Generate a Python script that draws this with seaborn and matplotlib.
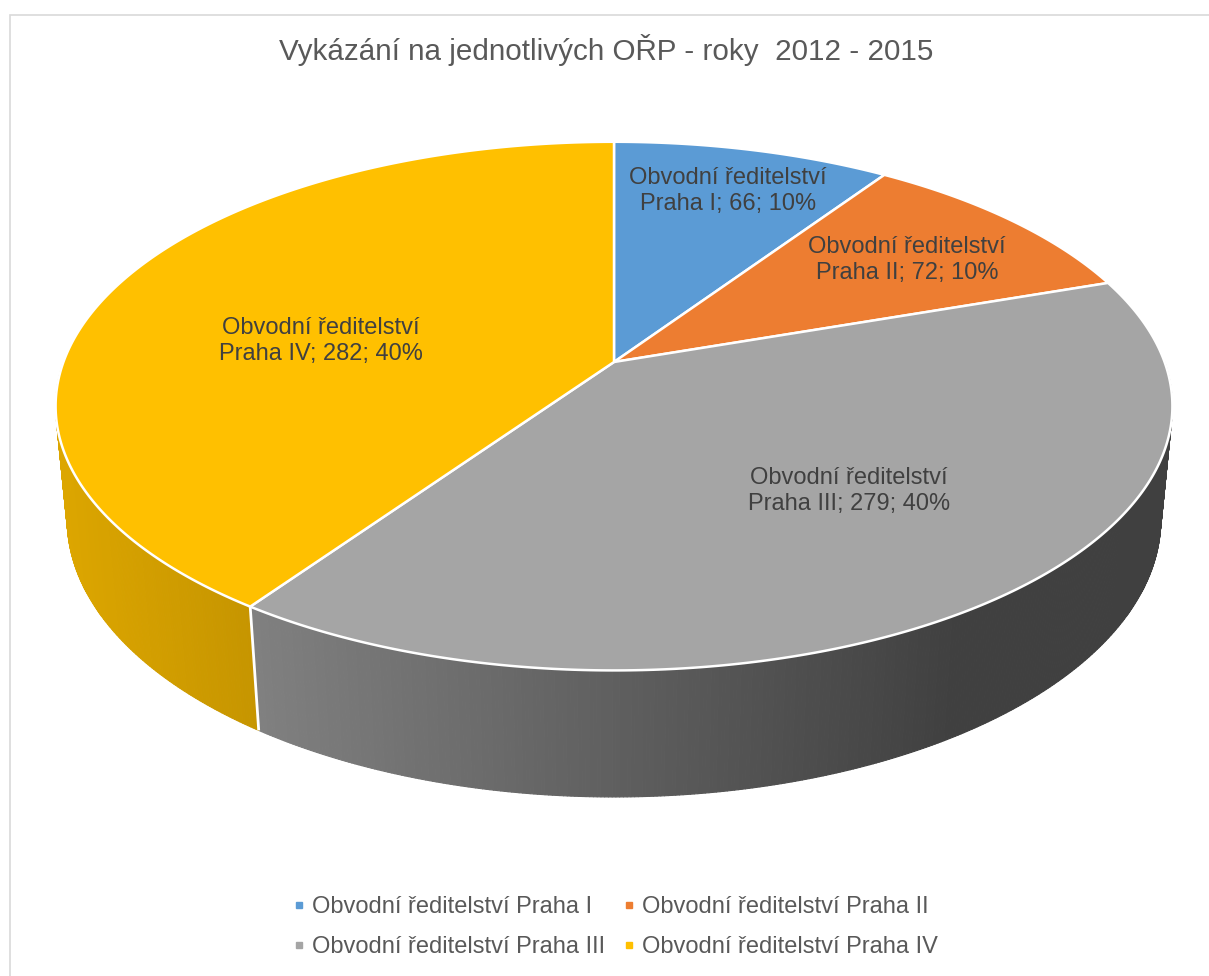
import numpy as np
import matplotlib
matplotlib.use("Agg")
import matplotlib.pyplot as plt
import seaborn as sns
from matplotlib.collections import PolyCollection
from matplotlib.patches import Polygon, Rectangle
from matplotlib.lines import Line2D

# ---------------- data ----------------
categories = ["Obvodní ředitelství Praha I", "Obvodní ředitelství Praha II",
              "Obvodní ředitelství Praha III", "Obvodní ředitelství Praha IV"]
values = [66, 72, 279, 282]
pct_labels = ["10%", "10%", "40%", "40%"]
colors = ["#5B9BD5", "#ED7D31", "#A5A5A5", "#FFC000"]
title = "Vykázání na jednotlivých OŘP - roky  2012 - 2015"

# ---------------- style ----------------
sns.set_theme(style="white")
plt.rcParams['font.family'] = ['Liberation Sans', 'DejaVu Sans']

W, Hpx = 1209, 976
fig = plt.figure(figsize=(W / 100, Hpx / 100), dpi=100)
ax = fig.add_axes([0, 0, 1, 1])
ax.set_xlim(0, W)
ax.set_ylim(Hpx, 0)
ax.axis('off')

# chart border
fig.patches.append(Rectangle((10 / W, -0.01), 1.05, 1 - 15 / Hpx + 0.01,
                             transform=fig.transFigure, fill=False,
                             edgecolor="#D9D9D9", linewidth=1.2))

# ---------------- 3D perspective pie ----------------
CX, CY = 614.0, 362.0
F = 2918.0
D = 5.30
alpha = np.arcsin(0.4667)
sa, ca = np.sin(alpha), np.cos(alpha)
THICK = 0.235


def proj(theta_deg, r=1.0, level=0.0):
    t = np.radians(theta_deg)
    X = r * np.sin(t)
    Z = -r * np.cos(t)
    Y = -level * THICK
    depth = D - Y * sa - Z * ca
    up = Y * ca - Z * sa
    return CX + F * X / depth, CY - F * up / depth


def shade(x):
    f = 0.86 - 0.00045 * (x - 65)
    if x > 250:
        f = 0.777 - 0.00055 * (x - 250)
    return max(0.39, f)


total = float(sum(values))
cum = np.concatenate([[0], np.cumsum(values)]) / total * 360.0

base_rgb = [np.array(matplotlib.colors.to_rgb(c)) for c in colors]

# sides (front half visible)
for i in range(len(values)):
    a0, a1 = cum[i], cum[i + 1]
    lo, hi = max(a0, 90.0), min(a1, 270.0)
    if lo >= hi:
        continue
    th = np.linspace(lo, hi, int((hi - lo) * 3) + 2)
    polys, fcs = [], []
    for t0, t1 in zip(th[:-1], th[1:]):
        x0, y0 = proj(t0)
        x1, y1 = proj(t1)
        x2, y2 = proj(t1, level=1)
        x3, y3 = proj(t0, level=1)
        polys.append([(x0, y0), (x1, y1), (x2, y2), (x3, y3)])
        fcs.append(np.clip(base_rgb[i] * shade((x0 + x1) / 2), 0, 1))
    pc = PolyCollection(polys, facecolors=fcs, edgecolors=fcs, linewidths=0.8, zorder=1)
    ax.add_collection(pc)

# white separators on the side
for a in cum:
    a_mod = a % 360
    if 90 < a_mod < 270:
        xt, yt = proj(a_mod)
        xb, yb = proj(a_mod, level=1)
        ax.plot([xt, xb], [yt, yb], color="white", lw=2, zorder=2, solid_capstyle='butt')

# top faces
for i in range(len(values)):
    a0, a1 = cum[i], cum[i + 1]
    th = np.linspace(a0, a1, max(int((a1 - a0) * 2), 4))
    xs, ys = proj(th)
    pts = [(CX, CY)] + list(zip(xs, ys))
    ax.add_patch(Polygon(pts, closed=True, facecolor=colors[i], edgecolor="white",
                         linewidth=1.8, joinstyle='round', zorder=3))

# data labels
label_shift = [0.0, 0.0, -4.0, -7.4]
label_r = [0.8, 0.72, 0.6, 0.55]
for i, cat in enumerate(categories):
    mid = (cum[i] + cum[i + 1]) / 2 + label_shift[i]
    lx, ly = proj(mid, r=label_r[i])
    head, tail = cat.split(" Praha ")
    txt = f"{head}\nPraha {tail}; {values[i]}; {pct_labels[i]}"
    ax.text(lx, ly + 3, txt, ha='center', va='center', fontsize=17, color="#404040",
            linespacing=1.22, zorder=5)

# title
fig.text(0.5 + 1 / W * 2, 1 - 50 / Hpx, title, ha='center', va='center',
         fontsize=21.3, color="#595959")

# legend (row-major order: I, II on first row; III, IV on second)
order = [0, 2, 1, 3]
handles = [Line2D([], [], marker='s', linestyle='', color=colors[k], markersize=5) for k in order]
labels = [categories[k] for k in order]
fig.legend(handles, labels, ncol=2, loc='center', frameon=False,
           bbox_to_anchor=(0.5 + 8 / W, 1 - 927 / Hpx), fontsize=17,
           labelcolor="#595959", handletextpad=0.05, columnspacing=0.5,
           labelspacing=0.78, handlelength=1.0)

fig.savefig("out.png", dpi=100, facecolor="white")
